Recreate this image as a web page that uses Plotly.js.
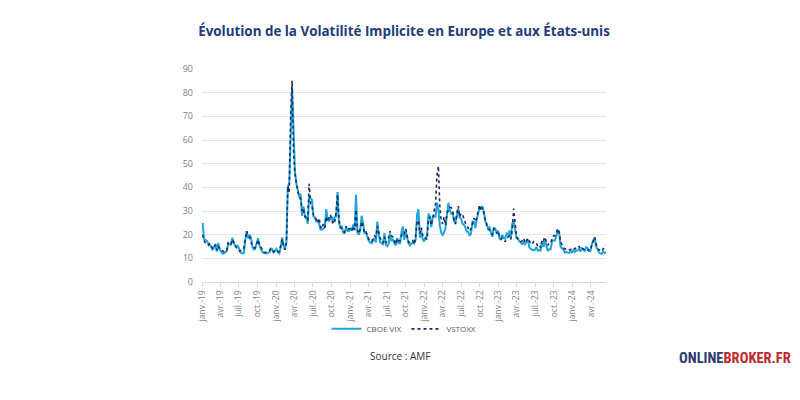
<!DOCTYPE html>
<html>
<head>
<meta charset="utf-8">
<script src="https://cdn.plot.ly/plotly-3.0.1.min.js"></script>
<style>html,body{margin:0;padding:0;background:#fff;}#chart{width:800px;height:400px;}</style>
</head>
<body>
<div id="chart"></div>
<script>
// Weekly observations starting on 2019-01-04
const startDate = '2019-01-04';

const vix = [
 // 2019
 25.0,18.2,17.8,17.4, 16.1,15.7,14.9,13.5, 14.6,16.1,12.9,16.5,13.7, 13.0,12.0,12.1,12.7,
 13.0,16.0,16.0,15.9,18.7, 16.3,15.3,15.4,15.1, 13.3,12.4,12.1,12.2, 17.6,21.5,18.5,19.9,19.0,
 15.0,13.7,14.0,16.3, 18.5,15.6,14.3,12.7, 12.3,12.1,12.1,12.3,12.6, 13.6,13.9,12.5,13.4,
 // 2020
 14.0,12.6,12.1,14.6,18.8, 15.5,13.7,17.1,40.1, 41.9,57.8,82.0,65.5, 46.8,41.7,38.2,35.9,
 37.2,28.0,31.9,28.2,27.5, 24.5,36.1,35.1,34.7, 27.7,27.3,25.7,25.8,24.5, 22.2,22.1,22.5,23.0,
 30.8,26.9,25.8,26.4, 27.6,25.0,27.4,27.6,38.0, 24.9,23.1,23.7,20.8, 20.8,23.3,21.6,21.5,
 22.8,
 // 2021
 21.6,24.3,21.9,37.0, 20.9,20.0,22.1,28.0, 24.7,20.7,21.0,18.9, 17.3,16.7,16.3,17.3,18.6,
 16.7,25.5,20.2,16.8, 16.4,15.7,20.7,15.6, 15.1,16.2,20.5,17.2,18.2, 16.2,15.5,18.6,16.4,
 16.4,21.0,23.5,17.8, 21.2,18.8,16.3,15.4,16.3, 16.5,16.3,17.9,28.6, 30.7,18.7,21.6,18.0,17.2,
 // 2022
 18.8,19.2,28.9,27.7, 23.2,27.4,27.8,27.6, 33.5,30.8,23.9,20.8, 19.6,21.2,22.7,28.2,33.4,
 30.2,28.9,29.4,25.7, 24.8,27.8,31.1,27.2, 26.7,24.6,24.2,23.0,21.3, 21.2,19.5,20.6,25.6,
 25.5,22.8,26.3,29.9,31.6, 31.4,32.0,29.7,25.8, 24.6,22.5,23.1,20.5, 19.1,22.8,22.6,20.9,21.7,
 // 2023
 18.3,18.4,19.9,18.5, 18.3,20.5,20.0,21.7, 18.5,24.8,25.5,21.7,18.7, 18.4,17.1,16.8,15.8,
 17.2,16.0,16.8,18.0, 14.6,13.8,13.5,13.4,13.6, 14.8,13.3,13.6,13.3, 17.1,14.8,17.3,15.7,
 13.1,13.8,13.8,17.2,17.5, 17.5,19.3,21.7,21.3, 14.9,14.2,13.8,12.5, 12.7,12.4,12.3,13.0,12.5,
 // 2024
 13.4,12.7,13.3,13.3, 13.9,12.9,14.2,13.8, 13.1,14.7,14.4,13.1,13.0, 16.0,17.3,18.7,15.0,
 13.5,12.6,12.0,11.9,12.9, 12.2,12.7
];

const vstoxx = [
 // 2019
 20.0,17.5,16.5,16.0, 15.5,16.2,15.0,14.3, 14.0,15.8,13.5,15.2,13.9, 13.5,13.0,12.8,13.4,
 13.2,17.0,16.4,16.2,18.0, 16.5,15.2,14.4,14.2, 13.0,13.5,13.6,14.0, 18.5,21.5,19.5,19.0,17.2,
 15.0,14.6,14.4,16.0, 17.8,15.8,14.5,13.7, 12.6,12.4,12.8,13.2,13.3, 14.2,13.8,12.7,13.0,
 // 2020
 13.5,12.8,12.9,15.5,18.0, 15.2,13.6,16.5,40.5, 38.0,70.0,85.0,55.0, 45.5,41.0,38.5,36.0,
 35.0,30.0,31.0,27.5,27.0, 26.0,41.5,33.0,32.0, 28.5,27.0,26.5,25.0,27.0, 23.5,22.5,24.5,23.0,
 27.5,25.5,27.5,28.5, 26.0,24.5,25.5,29.5,37.0, 26.5,23.0,22.5,21.5, 21.0,23.5,22.0,22.5,
 22.5,
 // 2021
 21.5,23.5,22.0,30.5, 22.0,20.5,22.5,25.5, 23.5,20.5,21.0,20.0, 18.0,17.5,17.0,18.5,19.5,
 19.0,23.5,21.0,18.5, 17.5,16.5,19.0,16.5, 17.5,19.0,21.5,19.5,19.0, 17.5,16.0,18.5,17.5,
 17.5,19.5,21.0,20.5, 22.5,19.5,17.0,16.5,17.0, 17.5,16.0,19.5,26.0, 25.5,20.5,23.0,19.5,18.5,
 // 2022
 18.5,18.0,26.5,27.5, 24.0,26.5,30.0,33.0, 45.0,49.0,32.0,26.0, 24.5,27.5,24.0,29.0,30.5,
 31.5,31.5,30.0,26.5, 24.5,29.0,32.0,27.5, 29.0,28.5,26.5,25.0,24.0, 23.0,21.5,22.5,25.5,
 27.0,25.5,27.0,30.0,32.5, 30.0,31.5,29.0,26.0, 24.0,22.5,22.0,20.5, 20.0,22.5,22.0,20.5,21.5,
 // 2023
 19.5,18.0,18.5,18.0, 17.0,18.5,19.0,19.5, 18.0,22.0,31.0,24.0,19.0, 18.0,17.5,17.0,17.5,
 18.5,16.5,17.5,18.5, 17.5,16.0,16.0,17.0,16.5, 16.5,15.0,15.5,14.5, 18.0,17.5,19.0,17.0,
 15.5,16.5,16.5,18.0,19.5, 19.5,20.5,22.5,21.0, 17.0,15.5,14.5,14.0, 14.0,13.5,13.5,13.5,13.8,
 // 2024
 14.5,14.0,14.5,14.3, 15.0,14.0,14.5,14.0, 13.5,14.0,13.5,13.5,13.3, 15.5,17.0,19.0,16.0,
 15.0,13.5,13.5,13.0,14.0, 14.5,15.5
];

const tickMonths = ['janv.', 'avr.', 'juil.', 'oct.'];
const tickYears = ['19', '20', '21', '22', '23', '24'];

// weekly date axis
function weeklyDates(start, n) {
  const out = [];
  const d0 = new Date(start + 'T00:00:00Z');
  for (let i = 0; i < n; i++) {
    const d = new Date(d0.getTime() + i * 7 * 86400000);
    out.push(d.toISOString().slice(0, 10));
  }
  return out;
}
const dates = weeklyDates(startDate, Math.max(vix.length, vstoxx.length));

const tickvals = [], ticktext = [];
tickYears.forEach((y, yi) => {
  tickMonths.forEach((m, mi) => {
    const yr = 2019 + yi;
    const mo = String(1 + mi * 3).padStart(2, '0');
    const v = yr + '-' + mo + '-01';
    if (v <= '2024-04-01') { tickvals.push(v); ticktext.push(m + '-' + y); }
  });
});

const traces = [
  {x: dates.slice(0, vix.length), y: vix, name: 'CBOE VIX', type: 'scatter', mode: 'lines',
   line: {color: '#1ea5dd', width: 2}},
  {x: dates.slice(0, vstoxx.length), y: vstoxx, name: 'VSTOXX', type: 'scatter', mode: 'lines',
   line: {color: '#1c2a5e', width: 1.6, dash: 'dot'}}
];

const layout = {
  width: 800, height: 400,
  margin: {l: 202, r: 194, t: 69, b: 118},
  paper_bgcolor: '#ffffff', plot_bgcolor: '#ffffff',
  font: {family: '"Open Sans", sans-serif', color: '#7f7f7f'},
  title: {text: 'Évolution de la Volatilité Implicite en Europe et aux États-unis',
          font: {family: '"Open Sans", sans-serif', size: 13.4, color: '#233a7b', weight: 'bold'},
          x: 0.5, xanchor: 'center', y: 1 - 31/400, yanchor: 'middle', xref: 'paper'},
  xaxis: {type: 'date', range: ['2019-01-01', '2024-06-14'],
          tickvals: tickvals, ticktext: ticktext, tickangle: -90,
          tickfont: {size: 8.5, color: '#7f7f7f'},
          showgrid: false, zeroline: false, showline: true, linecolor: '#d9d9d9', linewidth: 1,
          ticks: 'outside', ticklen: 4, tickcolor: '#d9d9d9'},
  yaxis: {range: [0, 90], dtick: 10, tick0: 0,
          tickfont: {size: 9, color: '#7f7f7f'},
          showgrid: true, gridcolor: '#e6e6e6', gridwidth: 1, zeroline: false,
          showline: false, ticks: '', ticklabelstandoff: 8, fixedrange: true},
  showlegend: true,
  legend: {orientation: 'h', x: 0.5, xanchor: 'center', y: -0.22, yanchor: 'middle',
           itemwidth: 30, font: {size: 8, color: '#595959'}, bgcolor: 'rgba(0,0,0,0)'},
  annotations: [
    {text: 'Source : AMF', xref: 'paper', yref: 'paper', x: (400-202)/404, y: (282-356)/213,
     xanchor: 'center', yanchor: 'middle', showarrow: false,
     font: {size: 10, color: '#333333', family: '"Open Sans", sans-serif'}},
    {text: '<b><span style="color:#2b3a6d">ONLINE</span><span style="color:#c1272d">BROKER.FR</span></b>',
     xref: 'paper', yref: 'paper', x: (735-202)/404, y: (282-358)/213,
     xanchor: 'center', yanchor: 'middle', showarrow: false,
     font: {size: 14.5, family: '"Roboto Condensed", "Liberation Sans Narrow", "DejaVu Sans Condensed", sans-serif'}}
  ]
};

Plotly.newPlot('chart', traces, layout, {displayModeBar: false, staticPlot: true});
</script>
</body>
</html>
